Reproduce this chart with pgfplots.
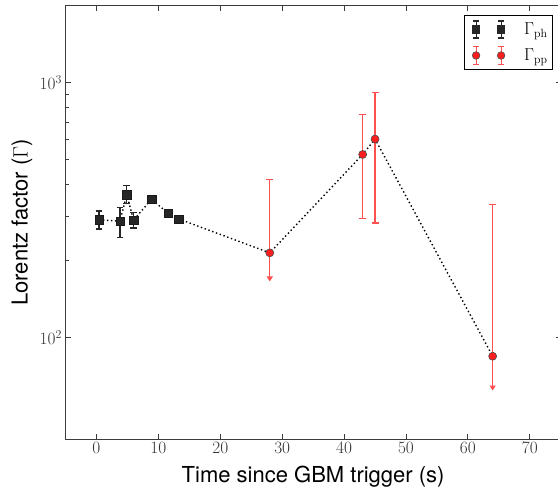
\documentclass[border=0pt]{standalone}
\usepackage{fontspec}
\usepackage{pgfplots}
\usepackage{pgfplotstable}
\pgfplotsset{compat=1.18}
\usetikzlibrary{arrows.meta}
\newfontfamily\hel{TeX Gyre Heros}
\definecolor{ppfill}{RGB}{250,30,30}
\definecolor{pperr}{RGB}{255,80,80}
\definecolor{spine}{RGB}{60,60,60}

\pgfplotstableread{
t g ep em
0.4 290 24 23
3.8 286 37 39
4.9 364 32 28
6.0 289 20 20
8.9 349 8 8
11.6 307 8 8
13.3 292 6 6
}\phdata

\pgfplotstableread{
t g ep em
43 523 228 229
45 601 315 319
}\ppboth

\pgfplotstableread{
t g ep
28 215 201
64 84.5 248
}\ppup

\pgfplotstableread{
t g
0.4 290
3.8 286
4.9 364
6.0 289
8.9 349
11.6 307
13.3 292
28 215
43 523
45 601
64 84.5
}\alldata

\begin{document}
\begin{tikzpicture}
\begin{axis}[
  scale only axis,
  width=495.25pt, height=433pt,
  ymode=log,
  xmin=-5, xmax=75, ymin=40, ymax=2000,
  xtick={0,10,...,70}, ytick={100,1000},
  tick align=inside,
  major tick length=5pt, minor tick length=3pt,
  axis line style={spine, line width=1pt},
  every tick/.style={spine, line width=0.8pt},
  tick label style={font=\fontsize{17}{20}\selectfont, text=black!80},
  xlabel={Time since GBM trigger (s)},
  ylabel={Lorentz factor ($\Gamma$)},
  label style={font=\hel\fontsize{22}{26}\selectfont},
  xlabel style={at={(axis description cs:0.5,-0.1016)}, anchor=base},
  ylabel style={at={(axis description cs:-0.0878,0.5)}, anchor=center},
  legend style={at={(rel axis cs:1,1)}, anchor=north east, xshift=-7.75pt, yshift=-9pt,
    draw=black, line width=1pt, fill=white, font=\fontsize{17}{20}\selectfont,
    inner xsep=3pt, inner ysep=2pt, row sep=2pt},
  legend cell align=left,
]
\coordinate (sw) at (rel axis cs:0,0);
\coordinate (ne) at (rel axis cs:1,1);

\addplot[black, line width=1.4pt, dash pattern=on 1.4pt off 2.6pt, forget plot] table[x=t,y=g] {\alldata};

\addplot[forget plot, only marks, mark=square*, mark size=4.2pt, mark options={fill=black!85, draw=black!90},
  error bars/.cd, y dir=both, y explicit,
  error bar style={black!85, line width=1.3pt},
  error mark options={rotate=90, black!85, line width=1.3pt, mark size=3.3pt}]
  table[x=t, y=g, y error plus=ep, y error minus=em] {\phdata};

\addplot[pperr, line width=1.4pt, -{Triangle[length=5pt,width=6pt]}, forget plot] coordinates {(28,215) (28,166)};
\addplot[pperr, line width=1.4pt, -{Triangle[length=5pt,width=6pt]}, forget plot] coordinates {(64,84.5) (64,62)};

\addplot[forget plot, only marks, mark=*, mark size=4pt, mark options={fill=ppfill, draw=black!70, line width=0.6pt},
  error bars/.cd, y dir=both, y explicit,
  error bar style={pperr, line width=1.4pt},
  error mark options={rotate=90, pperr, line width=1.4pt, mark size=3.5pt}]
  table[x=t, y=g, y error plus=ep, y error minus=em] {\ppboth};

\addplot[forget plot, only marks, mark=*, mark size=4pt, mark options={fill=ppfill, draw=black!70, line width=0.6pt},
  error bars/.cd, y dir=plus, y explicit,
  error bar style={pperr, line width=1.4pt},
  error mark options={rotate=90, pperr, line width=1.4pt, mark size=3.5pt}]
  table[x=t, y=g, y error plus=ep] {\ppup};

\addlegendimage{legend image code/.code={
    \path[draw=none, fill=none] (-9pt,-12pt) rectangle (46pt,12pt);
    \draw[black!85, line width=1.2pt] (0pt,-8.5pt)--(0pt,8.5pt) (-3pt,-8.5pt)--(3pt,-8.5pt) (-3pt,8.5pt)--(3pt,8.5pt);
    \fill[black!85] (-3.5pt,-4.2pt) rectangle (3.5pt,4.2pt);
    \draw[black!85, line width=1.2pt] (25pt,-8.5pt)--(25pt,8.5pt) (22pt,-8.5pt)--(28pt,-8.5pt) (22pt,8.5pt)--(28pt,8.5pt);
    \fill[black!85] (21.5pt,-4.2pt) rectangle (28.5pt,4.2pt);
  }}
\addlegendentry{$\Gamma_{\mathrm{ph}}$}
\addlegendimage{legend image code/.code={
    \path[draw=none, fill=none] (-9pt,-12pt) rectangle (46pt,12pt);
    \draw[pperr, line width=1.2pt] (0pt,-8.8pt)--(0pt,8.8pt) (-3pt,-8.8pt)--(3pt,-8.8pt) (-3pt,8.8pt)--(3pt,8.8pt);
    \filldraw[fill=ppfill, draw=black!70, line width=0.6pt] (0pt,0pt) circle[radius=3.8pt];
    \draw[pperr, line width=1.2pt] (25pt,-8.8pt)--(25pt,8.8pt) (22pt,-8.8pt)--(28pt,-8.8pt) (22pt,8.8pt)--(28pt,8.8pt);
    \filldraw[fill=ppfill, draw=black!70, line width=0.6pt] (25pt,0pt) circle[radius=3.8pt];
  }}
\addlegendentry{$\Gamma_{\mathrm{pp}}$}
\end{axis}
\pgfresetboundingbox
\path ([shift={(-65.5pt,-50pt)}]sw) rectangle ([shift={(-2.75pt,6pt)}]ne);
\end{tikzpicture}
\end{document}
